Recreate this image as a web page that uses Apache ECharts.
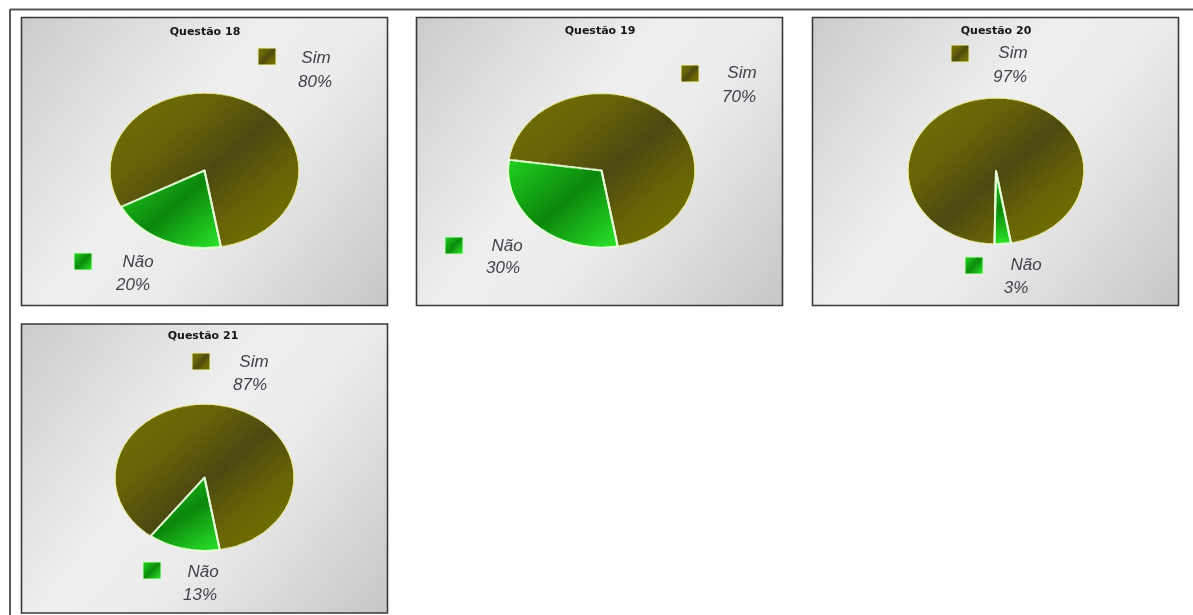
<!DOCTYPE html>
<html>
<head>
<meta charset="utf-8">
<script src="https://cdn.jsdelivr.net/npm/echarts@6/dist/echarts.min.js"></script>
<style>
  html, body { margin: 0; padding: 0; background: #ffffff; }
  #stage { position: relative; width: 1193px; height: 615px; overflow: hidden; }
  #main { position: absolute; left: 0; top: 0; width: 1193px; height: 615px; }
  .pie { position: absolute; }
</style>
</head>
<body>
<div id="stage"><div id="main"></div></div>
<script>
// Survey answers per question
const questions = ['Questão 18', 'Questão 19', 'Questão 20', 'Questão 21'];
const answers = ['Sim', 'Não'];
const simPct = [80, 70, 97, 87];
const naoPct = [20, 30, 3, 13];

// Panel boxes, pie ellipses and legend placement
const panels = [
  { x: 21.5, y: 17.5, w: 366, h: 288 },
  { x: 416.5, y: 17.5, w: 366, h: 288 },
  { x: 812.5, y: 17.5, w: 366, h: 288 },
  { x: 21.5, y: 324, w: 366, h: 289 }
];
const titlePos = [[205, 32], [600, 31.5], [996, 31], [203, 336.5]];
const pieGeo = [
  { cx: 204.5, cy: 170.5, rx: 94.5, ry: 77.5, start: 208 },
  { cx: 601.5, cy: 170, rx: 93.5, ry: 77, start: 172 },
  { cx: 996, cy: 171, rx: 88, ry: 73, start: 269 },
  { cx: 204.5, cy: 477.7, rx: 89.5, ry: 73.3, start: 233 }
];
// [square x, square y, name centre x, name y, pct centre x, pct y]
const legendSim = [
  [258, 48, 316, 58, 315, 82],
  [681, 65, 742, 73, 739, 97],
  [951, 45, 1013, 53, 1010, 77],
  [192, 353, 254, 362, 250, 385]
];
const legendNao = [
  [74, 253, 138, 262, 133, 285],
  [445, 237, 507, 246, 503, 268],
  [965, 257, 1026, 265, 1016, 288],
  [143, 562, 203, 572, 200, 595]
];

const G = echarts.graphic;
const simFill = () => new G.LinearGradient(0, 0, 1, 1, [
  { offset: 0, color: '#777304' },
  { offset: 0.3, color: '#6a6608' },
  { offset: 0.52, color: '#4e4b12' },
  { offset: 0.72, color: '#6a6606' },
  { offset: 1, color: '#7c7800' }
]);
const naoFill = () => new G.LinearGradient(0, 0, 1, 1, [
  { offset: 0, color: '#22d822' },
  { offset: 0.5, color: '#0c8a0c' },
  { offset: 1, color: '#2cee2c' }
]);
const stripes = {
  symbol: 'rect', symbolSize: 1,
  dashArrayX: [1, 0], dashArrayY: [1, 2],
  rotation: -Math.PI / 4,
  color: 'rgba(0,0,0,0.08)'
};

const graphics = [];
// outer frame (top and left edges)
graphics.push({ type: 'line', shape: { x1: 10, y1: 9.5, x2: 1193, y2: 9.5 }, style: { stroke: '#5a5a5a', lineWidth: 2 } });
graphics.push({ type: 'line', shape: { x1: 10, y1: 9, x2: 10, y2: 615 }, style: { stroke: '#5a5a5a', lineWidth: 2 } });

panels.forEach((p, i) => {
  graphics.push({
    type: 'rect', shape: { x: p.x, y: p.y, width: p.w, height: p.h },
    style: {
      fill: new G.LinearGradient(0, 0, 1, 1, [
        { offset: 0, color: '#cbcbcb' },
        { offset: 0.42, color: '#efefef' },
        { offset: 0.6, color: '#ebebeb' },
        { offset: 1, color: '#c6c6c6' }
      ]),
      stroke: '#3a3a3a', lineWidth: 1.6
    }
  });
  graphics.push({
    type: 'text', x: titlePos[i][0], y: titlePos[i][1],
    style: { text: questions[i], font: 'bold 11px "DejaVu Sans"', fill: '#151515', textAlign: 'center', textVerticalAlign: 'middle' }
  });
  const entries = [[legendSim[i], answers[0], simPct[i], simFill(), '#f2f2b4'], [legendNao[i], answers[1], naoPct[i], naoFill(), '#c8ffc0']];
  entries.forEach(([L, name, pct, fill, edge]) => {
    graphics.push({ type: 'rect', shape: { x: L[0], y: L[1], width: 18, height: 17 }, style: { fill: fill, stroke: edge, lineWidth: 1 } });
    graphics.push({ type: 'text', x: L[2], y: L[3], style: { text: name, font: 'italic 17px "Liberation Sans"', fill: '#42424c', textAlign: 'center', textVerticalAlign: 'middle' } });
    graphics.push({ type: 'text', x: L[4], y: L[5], style: { text: pct + '%', font: 'italic 17px "Liberation Sans"', fill: '#42424c', textAlign: 'center', textVerticalAlign: 'middle' } });
  });
});

const main = echarts.init(document.getElementById('main'), null, { renderer: 'canvas' });
main.setOption({ animation: false, backgroundColor: '#ffffff', graphic: { elements: graphics } });

// Each pie is drawn as a circle and flattened into an ellipse
const stage = document.getElementById('stage');
pieGeo.forEach((g, i) => {
  const pad = 4;
  const size = Math.ceil(2 * (g.rx + pad));
  const div = document.createElement('div');
  div.className = 'pie';
  div.style.width = size + 'px';
  div.style.height = size + 'px';
  div.style.left = (g.cx - size / 2) + 'px';
  div.style.top = (g.cy - size / 2) + 'px';
  div.style.transform = 'scaleY(' + (g.ry / g.rx) + ')';
  div.style.transformOrigin = '50% 50%';
  stage.appendChild(div);
  const chart = echarts.init(div, null, { renderer: 'canvas' });
  chart.setOption({
    animation: false,
    series: [{
      type: 'pie',
      radius: g.rx,
      center: ['50%', '50%'],
      startAngle: g.start,
      clockwise: true,
      silent: true,
      label: { show: false },
      labelLine: { show: false },
      data: [
        { name: answers[0], value: simPct[i], itemStyle: { color: simFill(), borderColor: '#ecec9e', borderWidth: 1, decal: stripes } },
        { name: answers[1], value: naoPct[i], itemStyle: { color: naoFill(), borderColor: '#e4ffd6', borderWidth: 2, decal: stripes } }
      ]
    }]
  });
});
</script>
</body>
</html>
